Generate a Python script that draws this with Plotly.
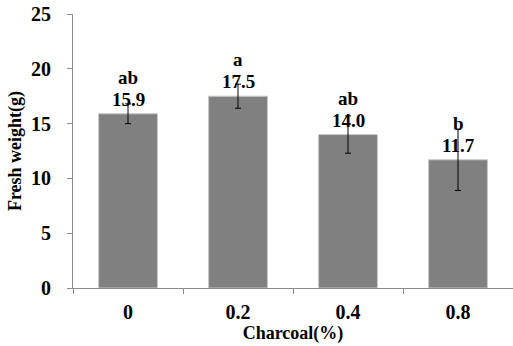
import plotly.graph_objects as go

categories = ["0", "0.2", "0.4", "0.8"]
values = [15.9, 17.5, 14.0, 11.7]
errors = [0.9, 1.1, 1.7, 2.8]
letters = ["ab", "a", "ab", "b"]
y_ticks = [0, 5, 10, 15, 20, 25]

FONT = "Liberation Serif"
AXC = "#8c8c8c"

fig = go.Figure()
fig.add_trace(go.Bar(
    x=categories, y=values,
    marker=dict(color="#808080", line=dict(color="#c8c8c8", width=1)),
    error_y=dict(type="data", array=errors, visible=True,
                 color="black", thickness=1, width=3),
    hoverinfo="skip",
))

for i, (v, l) in enumerate(zip(values, letters)):
    fig.add_annotation(x=i, y=v, xref="x", yref="y", text=f"{v:.1f}", showarrow=False,
                       yanchor="bottom", yshift=2,
                       font=dict(family=FONT, size=19, color="black", weight="bold"))
    fig.add_annotation(x=i, y=v, xref="x", yref="y", text=l, showarrow=False,
                       yanchor="bottom", yshift=24,
                       font=dict(family=FONT, size=19, color="black", weight="bold"))

fig.update_layout(
    width=513, height=346,
    margin=dict(l=73, r=0, t=14, b=58),
    plot_bgcolor="white", paper_bgcolor="white",
    bargap=0.465,
    showlegend=False,
    font=dict(family=FONT, size=18, color="black", weight="bold"),
)
fig.update_xaxes(
    type="category", showline=True, linecolor=AXC, linewidth=1,
    ticks="outside", tickson="boundaries", ticklen=5, tickcolor=AXC,
    tickfont=dict(family=FONT, size=20, color="black", weight="bold"),
    ticklabelstandoff=6,
    title=dict(text="Charcoal(%)", standoff=2,
               font=dict(family=FONT, size=18, color="black", weight="bold")),
    showgrid=False, zeroline=False,
)
fig.update_yaxes(
    range=[0, 25], tickvals=y_ticks, showline=True, linecolor=AXC, linewidth=1,
    ticks="outside", ticklen=5, tickcolor=AXC,
    tickfont=dict(family=FONT, size=20, color="black", weight="bold"),
    ticklabelstandoff=12,
    title=dict(text="Fresh weight(g)", standoff=4,
               font=dict(family=FONT, size=18, color="black", weight="bold")),
    showgrid=False, zeroline=False,
)

fig.write_html("out.html")
